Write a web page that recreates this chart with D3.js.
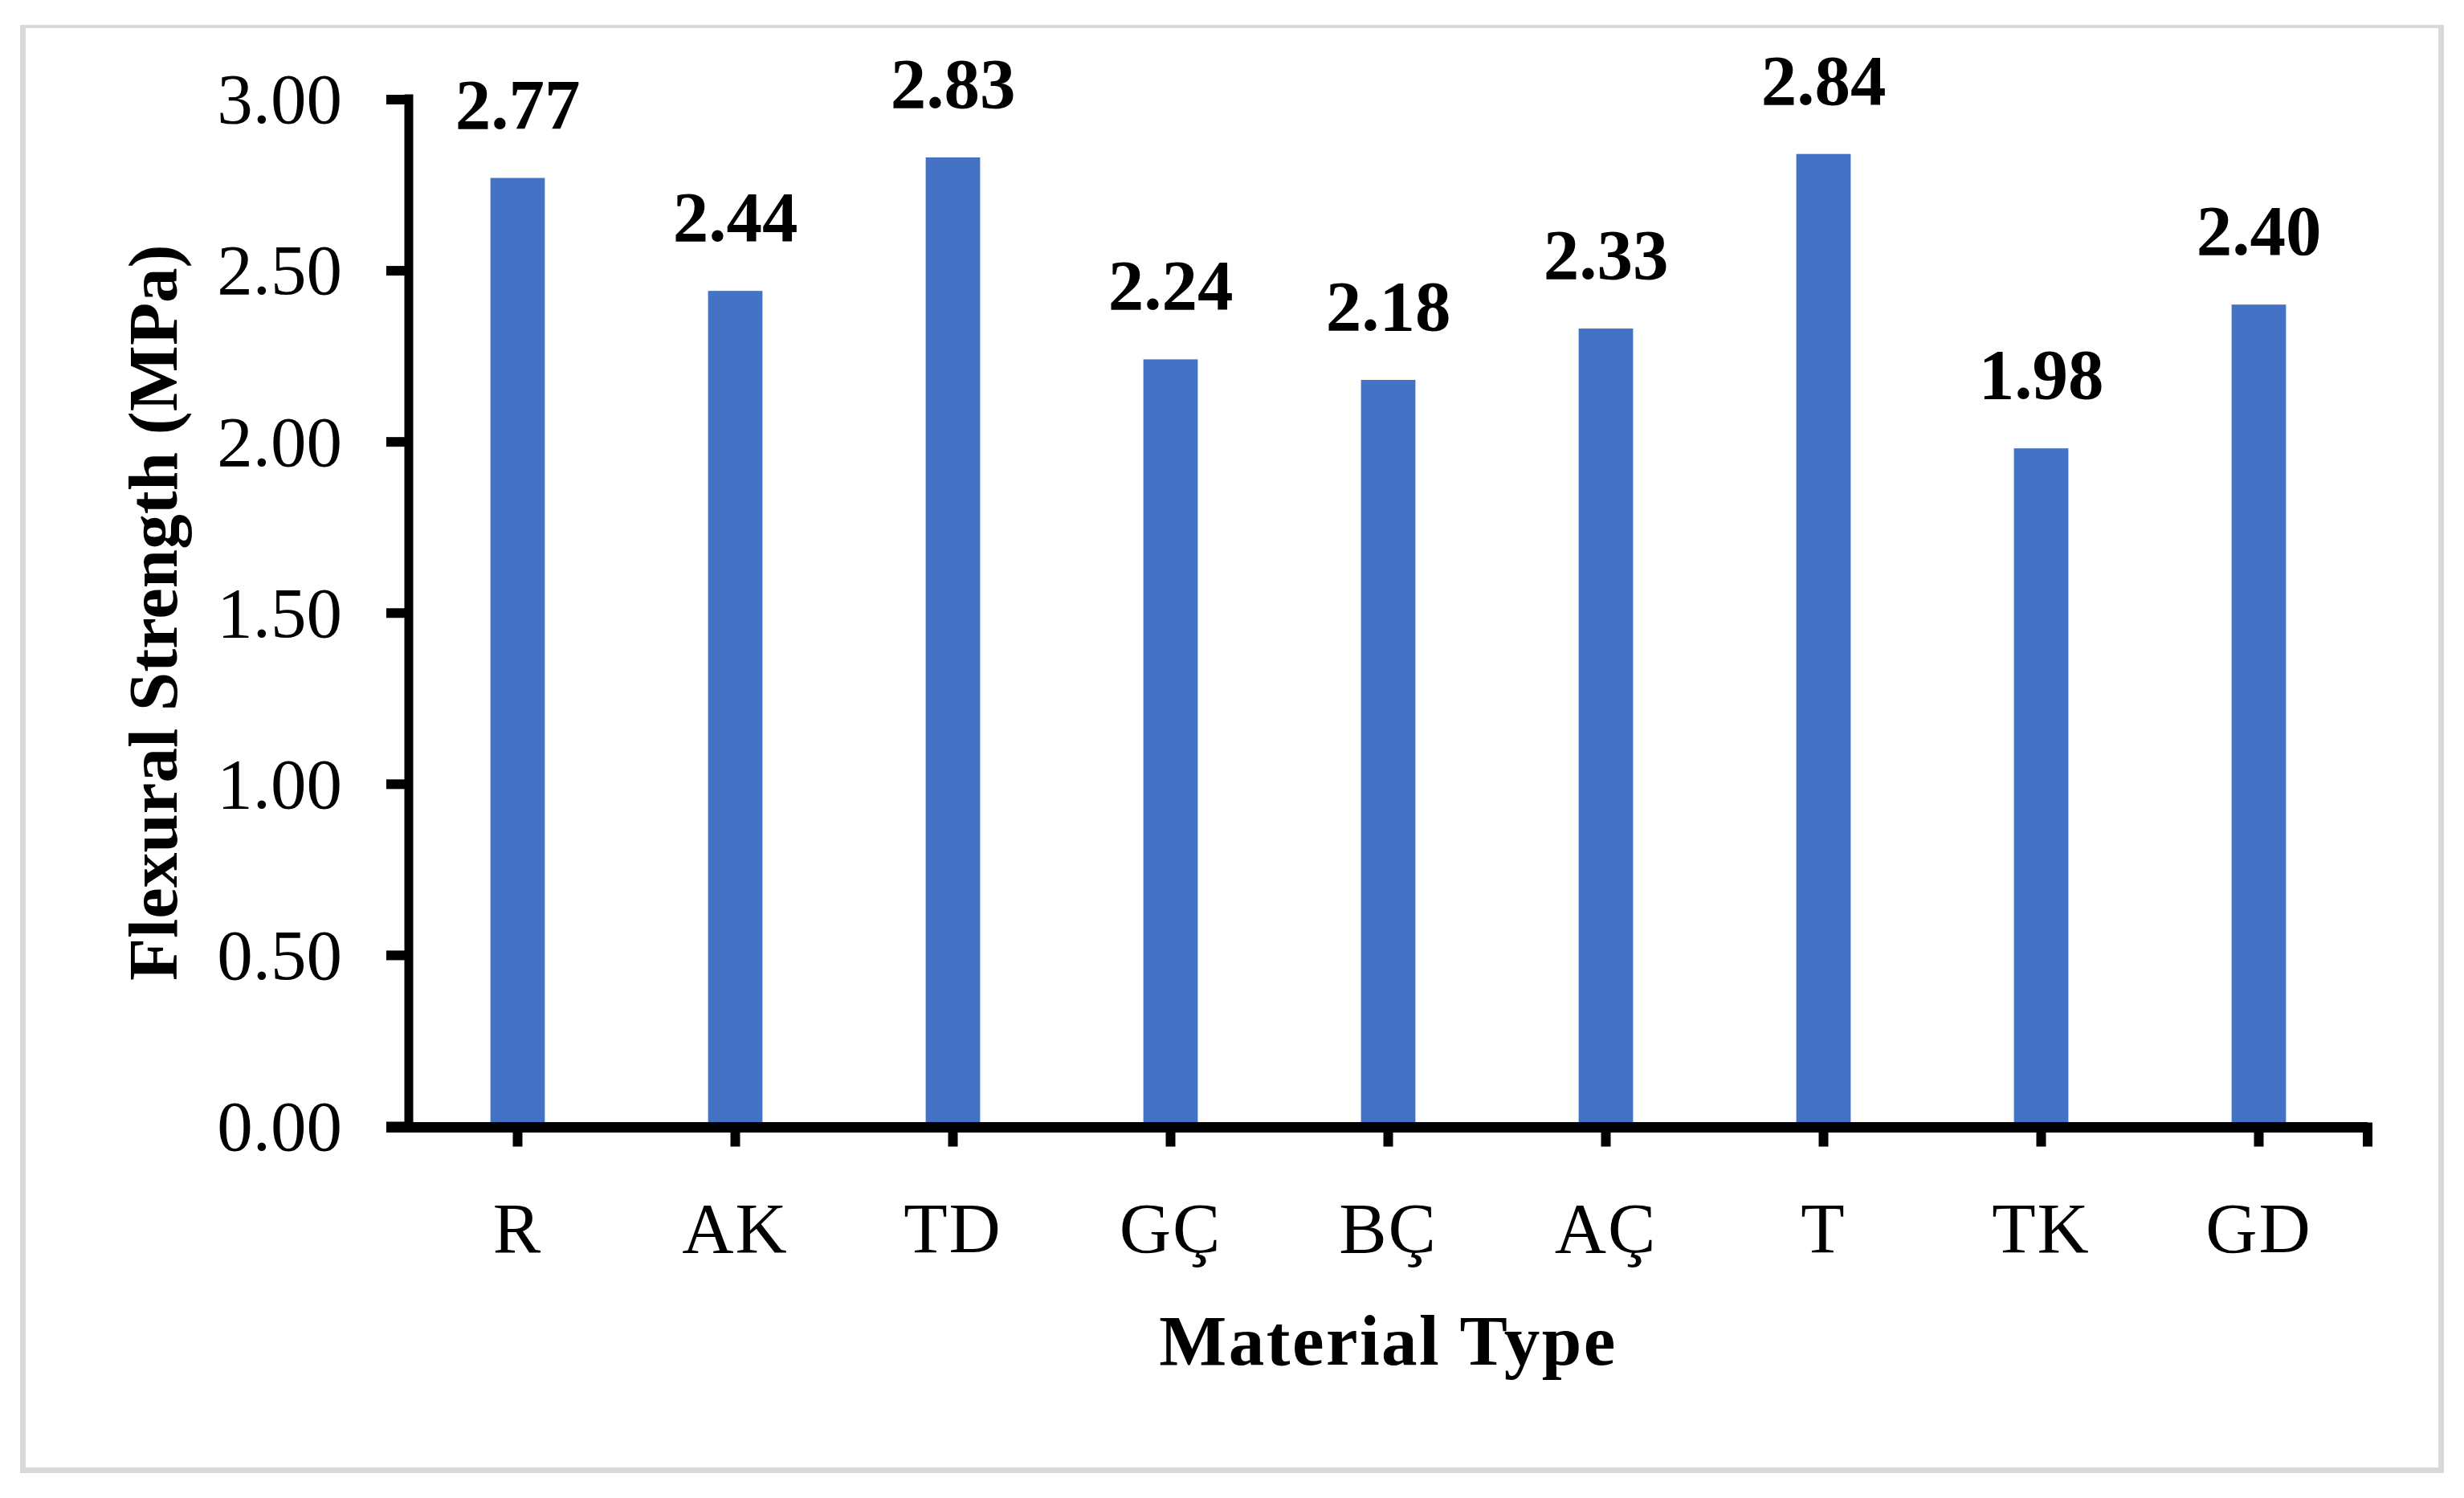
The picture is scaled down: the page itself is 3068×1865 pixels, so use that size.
<!DOCTYPE html>
<html>
<head>
<meta charset="utf-8">
<script src="https://cdn.jsdelivr.net/npm/d3@7"></script>
<style>
  html, body { margin: 0; padding: 0; background: #ffffff; }
  svg { display: block; }
  text { font-family: "Palatino Linotype", "Book Antiqua", "Liberation Serif", serif; fill: #000; }
</style>
</head>
<body>
<svg id="chart" width="3068" height="1865"></svg>
<script>
const categories = ["R", "AK", "TD", "GÇ", "BÇ", "AÇ", "T", "TK", "GD"];
const values = [2.77, 2.44, 2.83, 2.24, 2.18, 2.33, 2.84, 1.98, 2.40];
const yTicks = [0, 0.5, 1.0, 1.5, 2.0, 2.5, 3.0];
const yTitle = "Flexural Strength (MPa)";
const xTitle = "Material Type";

(function () {
const W = 3068, H = 1865;
const svg = d3.select("#chart");

svg.append("rect").attr("x", 0).attr("y", 0).attr("width", W).attr("height", H).attr("fill", "#fff");

// outer frame
const frame = svg.append("g").attr("fill", "#d9d9d9");
frame.append("rect").attr("x", 25).attr("y", 31).attr("width", 3043 - 25).attr("height", 4);
frame.append("rect").attr("x", 25).attr("y", 31).attr("width", 7).attr("height", 1834 - 31);
frame.append("rect").attr("x", 3036).attr("y", 31).attr("width", 7).attr("height", 1834 - 31);
frame.append("rect").attr("x", 25).attr("y", 1827).attr("width", 3043 - 25).attr("height", 7);

const pLeft = 509, pRight = 2948, pTop = 123.5, pBottom = 1402;

const x = d3.scaleBand().domain(categories).range([pLeft, pRight])
  .paddingInner(0.75).paddingOuter(0.375);
const y = d3.scaleLinear().domain([0, 3]).range([pBottom, pTop]);

// bars
svg.append("g").selectAll("rect").data(values).join("rect")
  .attr("x", (d, i) => x(categories[i]))
  .attr("width", x.bandwidth())
  .attr("y", d => y(d))
  .attr("height", d => y(0) - y(d))
  .attr("fill", "#4472C4");

// data labels
svg.append("g").selectAll("text").data(values).join("text")
  .attr("x", (d, i) => x(categories[i]) + x.bandwidth() / 2)
  .attr("y", d => y(d) - 62)
  .attr("text-anchor", "middle")
  .attr("font-size", 89)
  .attr("font-weight", "bold")
  .text(d => d.toFixed(2));

const ff = '"Palatino Linotype", "Book Antiqua", "Liberation Serif", serif';

// y axis
const yAxis = svg.append("g").attr("transform", `translate(${pLeft},0)`)
  .call(d3.axisLeft(y).tickValues(yTicks).tickSize(28).tickSizeOuter(0).tickPadding(55)
    .tickFormat(d => d.toFixed(2)));
yAxis.select(".domain").attr("stroke", "#000").attr("stroke-width", 11)
  .attr("d", `M0,${pTop - 6}V${pBottom}`);
yAxis.selectAll(".tick line").attr("stroke", "#000").attr("stroke-width", 12);
yAxis.selectAll(".tick text")
  .attr("font-size", 89)
  .attr("font-family", ff)
  .attr("fill", "#000")
  .attr("dy", "0.33em");

// x axis
const xAxis = svg.append("g").attr("transform", `translate(0,${pBottom + 1.5})`)
  .call(d3.axisBottom(x).tickSize(24).tickSizeOuter(0).tickPadding(0));
xAxis.select(".domain").attr("stroke", "#000").attr("stroke-width", 13)
  .attr("d", `M${pLeft - 28},0H${pRight}`);
xAxis.selectAll(".tick line").attr("stroke", "#000").attr("stroke-width", 12);
xAxis.selectAll(".tick text")
  .attr("font-size", 89)
  .attr("font-family", ff)
  .attr("fill", "#000")
  .attr("letter-spacing", 2)
  .attr("y", 155).attr("dy", 0);
// end tick at right edge of category axis
xAxis.append("line")
  .attr("x1", x.range()[1]).attr("x2", x.range()[1])
  .attr("y1", -6).attr("y2", 24)
  .attr("stroke", "#000").attr("stroke-width", 12);

// axis titles
svg.append("text")
  .attr("transform", `translate(220,${(pTop + pBottom) / 2}) rotate(-90)`)
  .attr("text-anchor", "middle")
  .attr("font-size", 87)
  .attr("font-weight", "bold")
  .text(yTitle);

svg.append("text")
  .attr("x", (pLeft + pRight) / 2)
  .attr("y", 1699)
  .attr("text-anchor", "middle")
  .attr("font-size", 89)
  .attr("font-weight", "bold")
  .attr("letter-spacing", 2.5)
  .text(xTitle);
})();
</script>
</body>
</html>
